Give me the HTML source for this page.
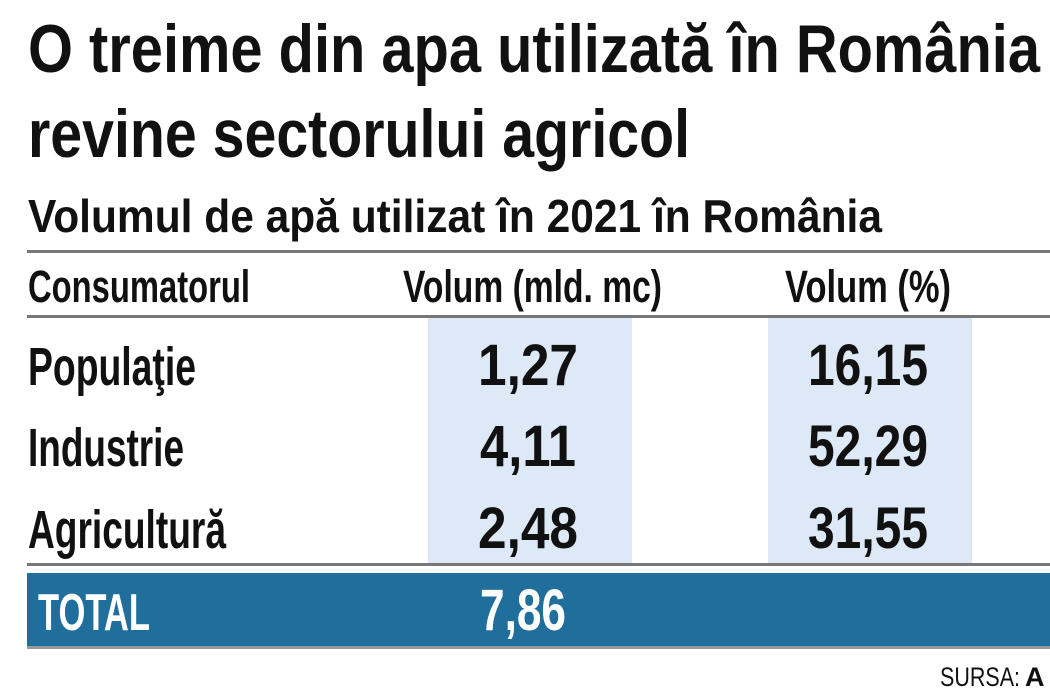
<!DOCTYPE html>
<html><head><meta charset="utf-8"><style>
html,body{margin:0;padding:0;background:#fff;}
svg{display:block;font-family:"Liberation Sans",Arial,sans-serif;}
</style></head><body>
<svg width="1050" height="700" viewBox="0 0 1050 700">
<rect x="0" y="0" width="1050" height="700" fill="#fff"/>
<g font-weight="bold" fill="#111">
<text x="28" y="72" font-size="68" textLength="1012" lengthAdjust="spacingAndGlyphs">O treime din apa utilizată în România</text>
<text x="28" y="157" font-size="68" textLength="662" lengthAdjust="spacingAndGlyphs">revine sectorului agricol</text>
<text x="28" y="232" font-size="46" textLength="854" lengthAdjust="spacingAndGlyphs">Volumul de apă utilizat în 2021 în România</text>
</g>
<rect x="27" y="250" width="1023" height="3" fill="#777"/>
<g font-weight="bold" fill="#111" font-size="45">
<text x="28" y="302" textLength="222" lengthAdjust="spacingAndGlyphs">Consumatorul</text>
<text x="403" y="302" textLength="259" lengthAdjust="spacingAndGlyphs">Volum (mld. mc)</text>
<text x="785" y="302" textLength="166" lengthAdjust="spacingAndGlyphs">Volum (%)</text>
</g>
<rect x="27" y="315" width="1023" height="3" fill="#777"/>
<rect x="428" y="318" width="204" height="246" fill="#dde9f6"/>
<rect x="768" y="318" width="204" height="246" fill="#dde9f6"/>
<g font-weight="bold" fill="#111">
<text x="28" y="385" font-size="54" textLength="168" lengthAdjust="spacingAndGlyphs">Populaţie</text>
<text x="528" y="385" font-size="58" text-anchor="middle" textLength="100" lengthAdjust="spacingAndGlyphs">1,27</text>
<text x="868" y="385" font-size="58" text-anchor="middle" textLength="120" lengthAdjust="spacingAndGlyphs">16,15</text>
<text x="28" y="466" font-size="54" textLength="156" lengthAdjust="spacingAndGlyphs">Industrie</text>
<text x="528" y="466" font-size="58" text-anchor="middle" textLength="96" lengthAdjust="spacingAndGlyphs">4,11</text>
<text x="868" y="466" font-size="58" text-anchor="middle" textLength="120" lengthAdjust="spacingAndGlyphs">52,29</text>
<text x="28" y="548" font-size="54" textLength="198" lengthAdjust="spacingAndGlyphs">Agricultură</text>
<text x="528" y="548" font-size="58" text-anchor="middle" textLength="100" lengthAdjust="spacingAndGlyphs">2,48</text>
<text x="868" y="548" font-size="58" text-anchor="middle" textLength="120" lengthAdjust="spacingAndGlyphs">31,55</text>
</g>
<rect x="27" y="563" width="1023" height="3" fill="#777"/>
<rect x="27" y="573" width="1023" height="74" fill="#1f6e9b"/>
<rect x="27" y="646" width="1023" height="3" fill="#999"/>
<g font-weight="bold" fill="#fff">
<text x="38" y="630" font-size="52" textLength="112" lengthAdjust="spacingAndGlyphs">TOTAL</text>
<text x="480" y="630" font-size="58" textLength="86" lengthAdjust="spacingAndGlyphs">7,86</text>
</g>
<text x="940" y="686" font-size="27" fill="#111" textLength="80" lengthAdjust="spacingAndGlyphs">SURSA:</text>
<text x="1025" y="686" font-size="27" font-weight="bold" fill="#111">A</text>
</svg>
</body></html>
